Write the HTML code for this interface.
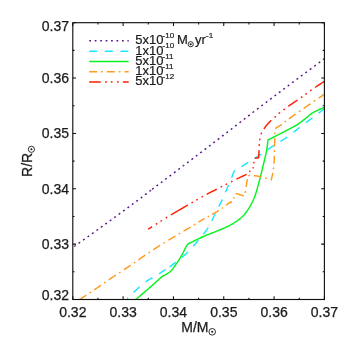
<!DOCTYPE html>
<html><head><meta charset="utf-8"><title>plot</title>
<style>html,body{margin:0;padding:0;background:#fff;}svg{display:block;will-change:transform;}</style></head><body>
<svg width="346" height="346" viewBox="0 0 346 346">
<rect x="0" y="0" width="346" height="346" fill="#fff"/>
<defs><clipPath id="c"><rect x="72.8" y="22.7" width="251.59999999999997" height="276.8"/></clipPath></defs>
<g clip-path="url(#c)" fill="none" stroke-linejoin="round">
<path d="M72.50,247.75 L72.73,247.58 L72.94,247.43 L73.15,247.28 L73.34,247.14 L73.55,246.99 L73.77,246.83 L74.01,246.66 L74.28,246.46 L74.58,246.24 L74.94,245.98" stroke="#5a1485" stroke-width="1.45" stroke-dasharray="1.90 3.58" stroke-dashoffset="3.42"/>
<path d="M74.94,245.98 L76.62,244.77 L78.89,243.15 L81.63,241.18 L84.76,238.94 L88.16,236.50 L91.76,233.92 L95.44,231.28 L99.10,228.64 L102.66,226.07 L106.00,223.65 L109.55,221.06 L113.28,218.34 L117.12,215.53 L121.01,212.69 L124.87,209.85 L128.65,207.07 L132.27,204.40 L135.67,201.88 L138.78,199.56 L141.53,197.50 L142.90,196.47 L144.11,195.54 L145.22,194.69 L146.25,193.89 L147.23,193.13 L148.22,192.36 L149.23,191.57 L150.27,190.77" stroke="#5a1485" stroke-width="1.45" stroke-dasharray="1.90 3.59" stroke-dashoffset="0.95"/>
<path d="M150.27,190.77 L150.32,190.73 L151.50,189.82 L151.56,189.77" stroke="#5a1485" stroke-width="1.45" stroke-dasharray="1.90 3.58" stroke-dashoffset="0.95"/>
<path d="M152.14,189.33 L152.83,188.80 L155.28,186.94 L157.96,184.90 L160.85,182.72 L163.90,180.41 L167.08,178.02 L170.34,175.56 L173.65,173.06 L176.97,170.56 L180.25,168.08 L183.47,165.64" stroke="#5a1485" stroke-width="1.45" stroke-dasharray="1.90 3.58" stroke-dashoffset="0.00"/>
<path d="M183.47,165.64 L186.90,163.04 L190.37,160.41 L193.88,157.74 L197.42,155.06 L200.98,152.36 L204.54,149.65 L208.11,146.93 L211.67,144.22 L215.21,141.51 L218.73,138.82 L222.19,136.17 L225.62,133.52 L229.04,130.88 L232.45,128.24 L235.86,125.60 L239.28,122.95 L242.72,120.29 L246.18,117.62 L249.69,114.92 L253.24,112.20 L253.37,112.10" stroke="#5a1485" stroke-width="1.45" stroke-dasharray="1.91 3.59" stroke-dashoffset="0.95"/>
<path d="M253.37,112.10 L257.11,109.25 L261.06,106.24 L265.07,103.19 L269.12,100.12 L273.18,97.05 L277.24,93.99 L281.26,90.95 L285.22,87.97 L289.11,85.04 L292.89,82.20 L296.32,79.63 L299.98,76.89 L303.74,74.09 L307.50,71.28 L311.16,68.56 L314.59,66.01 L317.68,63.71 L320.34,61.73 L322.44,60.17 L323.87,59.10" stroke="#5a1485" stroke-width="1.45" stroke-dasharray="1.91 3.60" stroke-dashoffset="0.96"/>
<path d="M323.87,59.10 L324.07,58.95 L324.25,58.82 L324.40,58.70 L324.53,58.61 L324.64,58.52 L324.75,58.44 L324.86,58.36 L324.96,58.28 L325.07,58.19 L325.20,58.10" stroke="#5a1485" stroke-width="1.45" stroke-dasharray="1.90 3.58" stroke-dashoffset="0.95"/>
<path d="M127.10,298.80 L127.77,298.15 L128.44,297.50 L129.11,296.84 L129.79,296.19 L130.46,295.54 L131.13,294.88 L131.80,294.23 L132.47,293.58 L133.14,292.94 L133.60,292.49" stroke="#18e8ff" stroke-width="1.45" stroke-dasharray="7.73 7.59" stroke-dashoffset="6.26"/>
<path d="M133.60,292.49 L133.80,292.30 L134.45,291.68 L135.09,291.05 L135.73,290.42 L136.38,289.79 L137.02,289.17 L137.66,288.55 L138.29,287.94 L138.93,287.35 L139.57,286.76 L140.20,286.20 L140.77,285.70 L141.33,285.22 L141.88,284.74 L142.42,284.27 L142.97,283.82 L143.53,283.37 L144.09,282.92 L144.67,282.48 L145.27,282.04 L145.73,281.72" stroke="#18e8ff" stroke-width="1.45" stroke-dasharray="8.20 8.05" stroke-dashoffset="0.00"/>
<path d="M145.73,281.72 L145.90,281.60 L146.65,281.11 L147.43,280.62 L148.25,280.13 L149.10,279.65 L149.95,279.18 L150.80,278.71 L151.64,278.25 L152.46,277.79 L153.25,277.34 L154.00,276.90 L154.58,276.54 L155.14,276.20 L155.68,275.87 L156.20,275.53 L156.72,275.21 L157.23,274.88 L157.75,274.55 L158.28,274.21 L158.83,273.86 L158.98,273.77" stroke="#18e8ff" stroke-width="1.45" stroke-dasharray="7.80 7.65" stroke-dashoffset="0.00"/>
<path d="M158.98,273.77 L159.40,273.50 L160.10,273.06 L160.84,272.61 L161.59,272.15 L162.36,271.68 L163.13,271.20 L163.91,270.72 L164.68,270.24 L165.44,269.76 L166.18,269.28 L166.90,268.80 L167.54,268.36 L168.17,267.93 L168.78,267.50 L169.39,267.06 L169.54,266.95" stroke="#18e8ff" stroke-width="1.45" stroke-dasharray="7.90 7.75" stroke-dashoffset="0.00"/>
<path d="M169.54,266.95 L169.98,266.63 L170.58,266.19 L171.18,265.75 L171.78,265.31 L172.38,264.86 L173.00,264.40 L173.67,263.91 L174.35,263.40 L175.04,262.89 L175.73,262.37 L176.42,261.85 L177.11,261.33 L177.78,260.81 L178.45,260.30 L179.09,259.79 L179.70,259.30 L180.20,258.89 L180.69,258.48 L181.16,258.08 L181.62,257.68 L182.07,257.29 L182.52,256.89 L182.96,256.50 L183.40,256.10 L183.85,255.70 L184.30,255.30 L184.75,254.91 L185.18,254.53 L185.60,254.16 L186.03,253.80 L186.45,253.43 L186.88,253.04 L187.33,252.64 L187.79,252.20 L188.28,251.72 L188.80,251.20 L189.77,250.18 L190.83,249.02 L191.98,247.74 L193.19,246.36 L194.42,244.93 L195.67,243.47 L196.91,242.00 L198.10,240.57 L199.24,239.19 L200.30,237.90 L201.13,236.89 L201.93,235.91 L202.72,234.96 L203.35,234.18" stroke="#18e8ff" stroke-width="1.45" stroke-dasharray="7.96 7.81" stroke-dashoffset="0.00"/>
<path d="M203.35,234.18 L203.48,234.02 L204.23,233.09 L204.96,232.16 L205.67,231.22 L206.36,230.27 L207.04,229.30 L207.70,228.30 L208.34,227.27 L208.94,226.24 L209.52,225.20 L210.08,224.14 L210.63,223.08 L211.17,222.00 L211.71,220.90 L212.25,219.79 L212.82,218.65 L213.40,217.50 L214.10,216.14 L214.81,214.73 L215.54,213.29 L216.28,211.83 L217.02,210.35 L217.76,208.86 L218.49,207.37 L219.21,205.89 L219.92,204.43 L220.60,203.00 L221.22,201.69 L221.83,200.40 L222.42,199.14 L223.00,197.88 L223.57,196.62 L224.14,195.35 L224.72,194.07 L225.30,192.75 L225.89,191.40 L226.50,190.00 L227.24,188.27 L227.99,186.47 L228.76,184.62 L229.53,182.74 L230.30,180.82 L231.09,178.89 L231.58,177.65" stroke="#18e8ff" stroke-width="1.45" stroke-dasharray="7.99 7.84" stroke-dashoffset="0.00"/>
<path d="M231.58,177.65 L231.87,176.95 L232.65,175.02 L233.43,173.10 L234.20,171.20 L235.48,170.39 L236.75,169.58 L238.03,168.78 L239.30,167.97 L240.58,167.16 L241.85,166.35 L243.13,165.54 L244.42,164.73 L245.71,163.92 L247.00,163.10 L248.34,162.26 L249.68,161.42 L251.03,160.58 L252.39,159.74 L253.75,158.90 L254.77,158.26" stroke="#18e8ff" stroke-width="1.45" stroke-dasharray="7.89 7.74" stroke-dashoffset="0.00"/>
<path d="M254.77,158.26 L255.10,158.05 L256.46,157.20 L257.81,156.34 L259.16,155.48 L260.50,154.60 L261.84,153.70 L263.18,152.79 L264.51,151.86 L265.84,150.92 L267.16,149.98 L268.49,149.05 L269.81,148.11 L271.14,147.19 L272.47,146.29 L273.80,145.40 L275.10,144.56 L276.40,143.75 L277.71,142.96 L279.02,142.17 L280.32,141.39 L280.47,141.31" stroke="#18e8ff" stroke-width="1.45" stroke-dasharray="7.77 7.62" stroke-dashoffset="0.00"/>
<path d="M280.47,141.31 L281.63,140.61 L282.93,139.82 L284.23,139.00 L285.52,138.17 L286.80,137.30 L288.12,136.36 L289.43,135.40 L290.74,134.41 L292.05,133.39 L293.35,132.37 L294.64,131.34 L295.94,130.31 L297.23,129.29 L298.51,128.29 L299.80,127.30 L301.04,126.36 L302.28,125.43 L303.51,124.51 L304.74,123.60 L305.96,122.68 L307.19,121.77 L308.41,120.86 L309.64,119.94 L310.87,119.03 L312.10,118.10 L313.35,117.16 L314.60,116.21 L315.85,115.26 L317.10,114.31 L318.35,113.36 L318.63,113.14" stroke="#18e8ff" stroke-width="1.45" stroke-dasharray="7.99 7.83" stroke-dashoffset="0.00"/>
<path d="M318.63,113.14 L319.60,112.41 L320.85,111.46 L322.10,110.50 L323.35,109.55 L324.60,108.60" stroke="#18e8ff" stroke-width="1.45" stroke-dasharray="7.90 7.75" stroke-dashoffset="0.00"/>
<path d="M135.90,299.40 L137.20,298.29 L138.50,297.19 L139.80,296.08 L141.11,294.98 L142.41,293.87 L143.71,292.77 L145.01,291.66 L146.31,290.54 L147.60,289.43 L148.90,288.30 L150.21,287.16 L151.51,286.01 L152.81,284.85 L154.11,283.69 L155.41,282.52 L156.71,281.36 L158.00,280.19 L159.30,279.03 L160.60,277.86 L161.90,276.70 L162.72,276.21 L163.55,275.75 L164.38,275.29 L165.22,274.84 L166.06,274.38 L166.89,273.90 L167.70,273.41 L168.49,272.88 L169.26,272.31 L170.00,271.70 L170.75,270.99 L171.48,270.24 L172.18,269.44 L172.87,268.61 L173.53,267.75 L174.18,266.87 L174.82,265.98 L175.45,265.09 L176.08,264.19 L176.70,263.30 L177.33,262.39 L177.95,261.46 L178.57,260.51 L179.17,259.55 L179.77,258.59 L180.35,257.63 L180.92,256.67 L181.47,255.73 L181.99,254.80 L182.50,253.90 L182.91,253.13 L183.31,252.36 L183.69,251.58 L184.06,250.80 L184.41,250.04 L184.76,249.30 L185.10,248.58 L185.43,247.91 L185.77,247.28 L186.10,246.70 L186.32,246.35 L186.54,246.02 L186.75,245.72 L186.96,245.43 L187.17,245.15 L187.37,244.89 L187.58,244.62 L187.78,244.36 L187.99,244.08 L188.20,243.80 L189.89,242.99 L191.61,242.16 L193.33,241.32 L195.06,240.47 L196.78,239.64 L198.48,238.81 L200.17,238.01 L201.82,237.23 L203.43,236.49 L205.00,235.80 L206.24,235.27 L207.44,234.78 L208.62,234.32 L209.77,233.89 L210.90,233.46 L212.03,233.04 L213.17,232.61 L214.32,232.16 L215.49,231.70 L216.70,231.20 L218.10,230.61 L219.56,230.00 L221.05,229.38 L222.56,228.74 L224.07,228.08 L225.57,227.42 L227.04,226.75 L228.46,226.07 L229.82,225.38 L231.10,224.70 L232.09,224.14 L233.06,223.57 L233.99,223.00 L234.90,222.43 L235.79,221.85 L236.64,221.27 L237.47,220.68 L238.28,220.09 L239.05,219.50 L239.80,218.90 L240.39,218.41 L240.96,217.95 L241.49,217.49 L242.00,217.04 L242.50,216.57 L242.99,216.09 L243.48,215.58 L243.97,215.04 L244.48,214.45 L245.00,213.80 L245.82,212.73 L246.66,211.56 L247.53,210.29 L248.41,208.95 L249.29,207.54 L250.15,206.08 L251.00,204.58 L251.81,203.06 L252.58,201.53 L253.30,200.00 L254.02,198.31 L254.70,196.57 L255.33,194.77 L255.93,192.94 L256.50,191.09 L257.04,189.22 L257.57,187.34 L258.08,185.47 L258.59,183.62 L259.10,181.80 L259.59,180.05 L260.05,178.30 L260.51,176.54 L260.95,174.79 L261.37,173.04 L261.79,171.30 L262.20,169.57 L262.61,167.86 L263.00,166.17 L263.40,164.50 L263.76,162.99 L264.13,161.48 L264.49,159.98 L264.85,158.49 L265.21,157.01 L265.54,155.55 L265.87,154.12 L266.17,152.71 L266.45,151.34 L266.70,150.00 L266.88,148.93 L267.04,147.89 L267.18,146.87 L267.31,145.87 L267.43,144.89 L267.54,143.92 L267.65,142.94 L267.76,141.97 L267.88,140.99 L268.00,140.00 L269.54,139.21 L271.13,138.40 L272.73,137.57 L274.35,136.75 L275.95,135.93 L277.52,135.12 L279.05,134.34 L280.51,133.58 L281.90,132.87 L283.20,132.20 L284.04,131.77 L284.84,131.35 L285.60,130.96 L286.34,130.58 L287.05,130.21 L287.74,129.84 L288.43,129.48 L289.11,129.13 L289.80,128.77 L290.50,128.40 L291.16,128.05 L291.81,127.71 L292.45,127.37 L293.09,127.03 L293.73,126.69 L294.36,126.35 L294.99,126.01 L295.63,125.68 L296.26,125.34 L296.90,125.00 L297.70,124.40 L298.51,123.80 L299.32,123.20 L300.13,122.60 L300.93,122.00 L301.74,121.40 L302.54,120.80 L303.33,120.20 L304.12,119.60 L304.90,119.00 L305.64,118.41 L306.36,117.81 L307.08,117.20 L307.79,116.59 L308.49,115.98 L309.20,115.38 L309.91,114.80 L310.63,114.24 L311.36,113.70 L312.10,113.20 L312.81,112.76 L313.55,112.33 L314.29,111.93 L315.04,111.54 L315.79,111.17 L316.54,110.82 L317.28,110.47 L318.00,110.14 L318.71,109.82 L319.40,109.50 L319.95,109.25 L320.49,109.01 L321.02,108.78 L321.54,108.56 L322.05,108.35 L322.56,108.14 L323.06,107.94 L323.57,107.73 L324.08,107.52 L324.60,107.30" stroke="#08f420" stroke-width="1.45"/>
<path d="M79.70,299.60 L81.15,298.63 L82.59,297.67 L84.03,296.71 L85.47,295.76 L86.91,294.80 L88.36,293.83 L89.81,292.86 L91.26,291.89 L92.73,290.90 L94.20,289.90" stroke="#ff9a1e" stroke-width="1.45" stroke-dasharray="7.98 3.89 1.69 3.89" stroke-dashoffset="0.00"/>
<path d="M94.20,289.90 L95.76,288.83 L97.34,287.74 L98.92,286.65 L100.51,285.54 L102.10,284.42 L103.70,283.31 L105.30,282.19 L106.90,281.09 L108.50,279.99 L108.75,279.82" stroke="#ff9a1e" stroke-width="1.45" stroke-dasharray="8.09 3.94 1.72 3.94" stroke-dashoffset="0.00"/>
<path d="M108.75,279.82 L110.10,278.90 L111.69,277.83 L113.31,276.76 L114.93,275.69 L116.55,274.62 L118.17,273.56 L119.78,272.51 L121.38,271.46 L122.95,270.43 L123.97,269.76" stroke="#ff9a1e" stroke-width="1.45" stroke-dasharray="8.34 4.07 1.77 4.07" stroke-dashoffset="0.00"/>
<path d="M123.97,269.76 L124.49,269.41 L126.00,268.40 L127.29,267.53 L128.54,266.68 L129.76,265.84 L130.96,265.02 L132.14,264.20 L133.34,263.38 L134.54,262.55 L135.78,261.69 L137.06,260.81 L138.40,259.90 L138.52,259.82" stroke="#ff9a1e" stroke-width="1.45" stroke-dasharray="8.06 3.93 1.71 3.93" stroke-dashoffset="0.00"/>
<path d="M138.52,259.82 L140.13,258.72 L141.95,257.47 L143.84,256.18 L145.78,254.85 L147.74,253.51 L149.70,252.18 L151.63,250.88 L153.50,249.61 L155.30,248.42 L157.00,247.30 L158.25,246.49 L159.47,245.70 L160.67,244.93 L161.84,244.19 L162.98,243.46 L164.10,242.77 L165.19,242.09 L166.25,241.44 L167.29,240.81 L168.30,240.20" stroke="#ff9a1e" stroke-width="1.45" stroke-dasharray="8.15 3.97 1.73 3.97" stroke-dashoffset="0.00"/>
<path d="M168.30,240.20 L169.05,239.76 L169.77,239.34 L170.47,238.95 L171.15,238.58 L171.81,238.21 L172.47,237.85 L173.14,237.48 L173.81,237.10 L174.49,236.71 L175.20,236.30 L176.01,235.81 L176.85,235.30 L177.69,234.78 L178.55,234.24 L179.40,233.70 L180.26,233.16 L181.12,232.62 L181.96,232.10 L182.79,231.59 L183.57,231.12" stroke="#ff9a1e" stroke-width="1.45" stroke-dasharray="8.12 3.96 1.73 3.96" stroke-dashoffset="0.00"/>
<path d="M183.57,231.12 L183.60,231.10 L184.30,230.69 L184.99,230.29 L185.67,229.90 L186.34,229.53 L187.01,229.15 L187.67,228.78 L188.34,228.40 L189.02,228.02 L189.70,227.62 L190.40,227.20 L191.20,226.71 L192.01,226.20 L192.83,225.68 L193.66,225.14 L194.50,224.60 L195.34,224.06 L196.17,223.52 L196.99,223.00 L197.80,222.49 L198.51,222.05" stroke="#ff9a1e" stroke-width="1.45" stroke-dasharray="7.99 3.90 1.70 3.90" stroke-dashoffset="0.00"/>
<path d="M198.51,222.05 L198.60,222.00 L199.29,221.59 L199.96,221.19 L200.61,220.81 L201.26,220.44 L201.90,220.07 L202.55,219.70 L203.22,219.33 L203.91,218.94 L204.64,218.53 L205.40,218.10 L206.52,217.47 L207.74,216.81 L209.02,216.12 L210.35,215.41 L211.71,214.67 L212.08,214.47" stroke="#ff9a1e" stroke-width="1.45" stroke-dasharray="7.11 3.47 1.51 3.47" stroke-dashoffset="0.00"/>
<path d="M212.08,214.47 L213.07,213.93 L214.41,213.19 L215.71,212.45 L216.95,211.72 L218.10,211.00 L219.00,210.41 L219.89,209.81 L220.76,209.20 L221.61,208.59 L222.43,207.99 L223.22,207.39 L223.99,206.81 L224.73,206.25 L225.43,205.71 L226.10,205.20" stroke="#ff9a1e" stroke-width="1.45" stroke-dasharray="7.69 3.75 1.64 3.75" stroke-dashoffset="0.00"/>
<path d="M226.10,205.20 L226.54,204.86 L226.95,204.54 L227.35,204.24 L227.73,203.94 L228.09,203.65 L228.45,203.36 L228.81,203.07 L229.16,202.79 L229.53,202.50 L229.90,202.20 L231.20,202.60 L231.00,202.00 L231.27,201.59 L231.55,201.19 L231.84,200.78 L232.12,200.38 L232.40,199.98 L232.68,199.57 L232.95,199.16 L233.21,198.75 L233.46,198.33 L233.70,197.90 L233.92,197.47 L234.13,197.03 L234.33,196.58 L234.52,196.13 L234.70,195.68 L234.88,195.22 L235.05,194.76 L235.23,194.31 L235.41,193.85 L235.60,193.40" stroke="#ff9a1e" stroke-width="1.45" stroke-dasharray="7.60 3.71 1.62 3.71" stroke-dashoffset="0.00"/>
<path d="M235.60,193.40 L236.31,193.61 L237.04,193.84 L237.80,194.06 L238.55,194.29 L239.30,194.52 L240.03,194.74 L240.72,194.95 L241.38,195.15 L241.97,195.33 L242.50,195.50 L242.76,195.58 L243.00,195.66 L243.22,195.73 L243.43,195.80 L243.63,195.87 L243.82,195.94 L244.01,196.00 L244.20,196.07 L244.40,196.13 L244.60,196.20 L244.67,195.80 L244.74,195.41 L244.81,195.02 L244.88,194.63 L244.95,194.24 L245.02,193.84 L245.09,193.44 L245.16,193.04 L245.23,192.62 L245.30,192.20 L245.38,191.70 L245.46,191.19 L245.53,190.67 L245.61,190.15 L245.68,189.61 L245.76,189.07 L245.84,188.52 L245.92,187.96 L246.01,187.38 L246.10,186.80" stroke="#ff9a1e" stroke-width="1.45" stroke-dasharray="8.66 4.22 1.84 4.22" stroke-dashoffset="0.00"/>
<path d="M246.10,186.80 L246.22,186.05 L246.35,185.26 L246.48,184.43 L246.61,183.59 L246.75,182.73 L246.90,181.89 L247.04,181.07 L247.19,180.29 L247.35,179.56 L247.50,178.90 L247.60,178.50 L247.71,178.12 L247.82,177.77 L247.93,177.43 L248.04,177.11 L248.15,176.79 L248.27,176.47 L248.38,176.16 L248.49,175.83 L248.60,175.50 L249.11,175.51 L249.61,175.51 L250.10,175.51 L250.60,175.50 L251.10,175.50 L251.60,175.51 L252.11,175.52 L252.63,175.53 L253.16,175.56 L253.70,175.60 L253.71,175.60" stroke="#ff9a1e" stroke-width="1.45" stroke-dasharray="7.64 3.72 1.62 3.72" stroke-dashoffset="0.00"/>
<path d="M253.71,175.60 L254.38,175.66 L255.09,175.74 L255.82,175.83 L256.56,175.93 L257.31,176.04 L258.06,176.16 L258.81,176.28 L259.53,176.42 L260.23,176.56 L260.90,176.70 L261.44,176.83 L261.96,176.96 L262.47,177.11 L262.96,177.26 L263.45,177.41 L263.94,177.57 L264.42,177.72 L264.90,177.88 L265.40,178.04 L265.90,178.20 L266.43,178.36 L266.97,178.53 L267.51,178.70 L268.05,178.87 L268.59,179.04 L269.13,179.21 L269.67,179.39 L270.22,179.56 L270.58,179.67" stroke="#ff9a1e" stroke-width="1.45" stroke-dasharray="7.96 3.88 1.69 3.88" stroke-dashoffset="0.00"/>
<path d="M270.58,179.67 L270.76,179.73 L271.30,179.90 L271.45,179.21 L271.61,178.52 L271.77,177.82 L271.93,177.12 L272.09,176.42 L272.25,175.73 L272.40,175.05 L272.55,174.38 L272.68,173.73 L272.80,173.10 L272.89,172.61 L272.97,172.15 L273.05,171.70 L273.12,171.27 L273.19,170.84 L273.25,170.40 L273.32,169.96 L273.38,169.50 L273.44,169.01 L273.50,168.50 L273.58,167.77 L273.66,167.01 L273.74,166.22 L273.82,165.40 L273.89,164.56 L273.96,163.70 L273.96,163.70" stroke="#ff9a1e" stroke-width="1.45" stroke-dasharray="7.86 3.83 1.67 3.83" stroke-dashoffset="0.00"/>
<path d="M273.96,163.70 L274.02,162.81 L274.09,161.90 L274.15,160.96 L274.20,160.00 L274.26,158.67 L274.32,157.27 L274.37,155.80 L274.41,154.29 L274.44,152.75 L274.48,151.19 L274.51,149.62 L274.54,148.05 L274.57,146.51 L274.57,146.50" stroke="#ff9a1e" stroke-width="1.45" stroke-dasharray="7.87 3.84 1.67 3.84" stroke-dashoffset="0.00"/>
<path d="M274.57,146.50 L274.60,145.00 L274.63,143.54 L274.67,142.08 L274.70,140.63 L274.73,139.18 L274.76,137.73 L274.78,136.29 L274.81,134.84 L274.84,133.40 L274.87,131.95 L274.90,130.50 L274.94,130.32 L274.97,130.14 L275.00,129.96 L275.02,129.79 L275.04,129.61 L275.08,129.43 L275.13,129.25 L275.19,129.07 L275.28,128.89 L275.40,128.70" stroke="#ff9a1e" stroke-width="1.45" stroke-dasharray="8.18 3.99 1.74 3.99" stroke-dashoffset="0.00"/>
<path d="M275.40,128.70 L275.71,128.34 L276.12,127.99 L276.60,127.63 L277.16,127.27 L277.76,126.90 L278.41,126.52 L279.06,126.14 L279.73,125.74 L280.38,125.33 L281.00,124.90 L281.74,124.36 L282.48,123.81 L283.22,123.23 L283.98,122.64 L284.76,122.04 L285.55,121.42 L286.37,120.79 L287.22,120.14 L288.09,119.48 L289.00,118.80" stroke="#ff9a1e" stroke-width="1.45" stroke-dasharray="7.70 3.76 1.64 3.76" stroke-dashoffset="0.00"/>
<path d="M289.00,118.80 L290.28,117.86 L291.64,116.88 L293.07,115.86 L294.54,114.81 L296.05,113.75 L297.59,112.67 L299.13,111.58 L300.68,110.51 L302.20,109.44 L303.70,108.40" stroke="#ff9a1e" stroke-width="1.45" stroke-dasharray="8.23 4.01 1.75 4.01" stroke-dashoffset="0.00"/>
<path d="M303.70,108.40 L305.21,107.35 L306.78,106.27 L308.37,105.18 L309.97,104.09 L311.55,103.00 L313.11,101.94 L314.61,100.92 L316.04,99.94 L317.38,99.03 L318.60,98.20" stroke="#ff9a1e" stroke-width="1.45" stroke-dasharray="8.25 4.02 1.75 4.02" stroke-dashoffset="0.00"/>
<path d="M318.60,98.20 L319.31,97.72 L319.97,97.26 L320.60,96.83 L321.19,96.43 L321.77,96.03 L322.33,95.65 L322.88,95.27 L323.44,94.89 L324.01,94.50 L324.60,94.10" stroke="#ff9a1e" stroke-width="1.45" stroke-dasharray="8.00 3.90 1.70 3.90" stroke-dashoffset="0.00"/>
<path d="M148.10,229.20 L150.38,227.77 L152.69,226.32 L155.00,224.85 L157.32,223.39 L159.63,221.93 L161.93,220.49 L164.20,219.06 L166.45,217.67 L168.65,216.31 L170.80,215.00" stroke="#ff1e05" stroke-width="1.45" stroke-dasharray="11.39 4.40 1.70 3.90 1.70 4.40 1.70 4.30" stroke-dashoffset="6.69"/>
<path d="M170.80,215.00 L172.61,213.91 L174.39,212.85 L176.13,211.83 L177.84,210.82 L178.16,210.64" stroke="#ff1e05" stroke-width="1.45" stroke-dasharray="11.40 4.40 1.70 3.90 1.70 4.40 1.70 4.30" stroke-dashoffset="0.00"/>
<path d="M178.16,210.64 L179.54,209.83 L181.23,208.85 L182.93,207.88 L184.63,206.90 L186.35,205.91 L188.10,204.90 L189.96,203.83 L191.86,202.72 L193.80,201.60 L195.75,200.47 L197.70,199.35 L199.62,198.25 L201.50,197.18 L203.32,196.16 L205.06,195.19 L206.66,194.32" stroke="#ff1e05" stroke-width="1.45" stroke-dasharray="11.17 4.31 1.67 3.82 1.67 4.31 1.67 4.21" stroke-dashoffset="0.00"/>
<path d="M206.66,194.32 L206.70,194.30 L207.81,193.71 L208.85,193.17 L209.84,192.66 L210.79,192.19 L211.73,191.72 L212.66,191.26 L213.62,190.79 L214.62,190.30 L215.67,189.77 L216.80,189.20 L218.52,188.32 L220.39,187.35 L222.38,186.33 L224.44,185.26 L226.54,184.17 L228.64,183.08 L230.70,182.02 L232.69,181.01 L234.57,180.06 L236.30,179.20 L236.34,179.18" stroke="#ff1e05" stroke-width="1.45" stroke-dasharray="11.34 4.38 1.69 3.88 1.69 4.38 1.69 4.28" stroke-dashoffset="0.00"/>
<path d="M236.34,179.18 L237.45,178.64 L238.54,178.11 L239.59,177.61 L240.61,177.14 L241.60,176.68 L242.57,176.22 L243.54,175.78 L244.51,175.33 L245.49,174.87 L246.50,174.40 L246.55,174.35" stroke="#ff1e05" stroke-width="1.45" stroke-dasharray="11.30 4.36 1.68 3.87 1.68 4.36 1.68 4.26" stroke-dashoffset="0.00"/>
<path d="M246.55,174.35 L246.82,174.10 L247.14,173.80 L247.46,173.50 L247.78,173.20 L248.10,172.90 L248.42,172.61 L248.74,172.31 L249.06,172.00 L249.38,171.70 L249.70,171.40 L250.03,171.10 L250.38,170.81 L250.73,170.52 L251.09,170.24 L251.44,169.95 L251.79,169.65 L252.11,169.34 L252.41,169.02 L252.67,168.67 L252.90,168.30 L253.10,167.87 L253.25,167.41 L253.36,166.93 L253.45,166.43 L253.52,165.91 L253.57,165.38 L253.62,164.86 L253.67,164.33 L253.73,163.81 L253.80,163.30 L253.88,162.80 L253.97,162.30 L254.05,161.80 L254.13,161.30 L254.21,160.80 L254.28,160.30 L254.36,159.80 L254.44,159.30 L254.52,158.80 L254.60,158.30 L254.69,158.29" stroke="#ff1e05" stroke-width="1.45" stroke-dasharray="9.83 3.79 1.47 3.36 1.47 3.79 1.47 3.71" stroke-dashoffset="9.83"/>
<path d="M254.69,158.29 L258.60,157.80 L258.65,157.01 L258.70,156.22 L258.76,155.42 L258.81,154.62 L258.87,153.82 L258.92,153.03 L258.97,152.25 L259.02,151.48 L259.06,150.73 L259.10,150.00 L259.13,149.39 L259.15,148.80 L259.16,148.21 L259.18,147.64 L259.19,147.07 L259.21,146.51 L259.22,145.95 L259.24,145.40 L259.27,144.85 L259.30,144.30 L259.33,143.79 L259.37,143.28 L259.40,142.78 L259.44,142.29 L259.48,141.79 L259.53,141.30 L259.58,140.81 L259.65,140.31 L259.72,139.81 L259.80,139.30 L259.90,138.75 L260.00,138.18 L260.11,137.61 L260.23,137.04 L260.36,136.47 L260.50,135.90 L260.65,135.33 L260.82,134.78 L261.00,134.23 L261.20,133.70 L261.41,133.20 L261.65,132.71 L261.89,132.23 L262.16,131.75 L262.43,131.28 L262.72,130.82 L263.01,130.36 L263.30,129.91 L263.60,129.45 L263.90,129.00" stroke="#ff1e05" stroke-width="1.45" stroke-dasharray="11.47 4.43 1.71 3.92 1.71 4.43 1.71 4.33" stroke-dashoffset="0.00"/>
<path d="M263.90,129.00 L264.20,128.54 L264.51,128.09 L264.83,127.64 L265.15,127.20 L265.48,126.75 L265.82,126.31 L266.16,125.88 L266.50,125.45 L266.85,125.02 L267.20,124.60 L267.56,124.18 L267.93,123.77 L268.30,123.36 L268.67,122.95 L269.06,122.55 L269.44,122.15 L269.83,121.76 L270.22,121.37 L270.61,120.98 L271.00,120.60 L271.38,120.23 L271.77,119.88 L272.15,119.53 L272.54,119.18 L272.93,118.84 L273.33,118.49 L273.72,118.15 L274.11,117.80 L274.51,117.46 L274.90,117.10 L275.30,116.73 L275.71,116.35 L276.11,115.96 L276.51,115.58 L276.91,115.19 L277.31,114.80 L277.72,114.42 L278.14,114.04 L278.57,113.67 L279.00,113.30 L279.47,112.92 L279.94,112.56 L280.43,112.19 L280.93,111.83 L281.43,111.47 L281.93,111.12 L282.43,110.76 L282.93,110.41 L283.42,110.06 L283.90,109.70 L284.34,109.36 L284.77,109.03 L285.19,108.70 L285.60,108.38 L286.01,108.05 L286.43,107.72 L286.86,107.38 L287.31,107.03 L287.79,106.67 L288.30,106.30" stroke="#ff1e05" stroke-width="1.45" stroke-dasharray="11.40 4.40 1.70 3.90 1.70 4.40 1.70 4.30" stroke-dashoffset="0.00"/>
<path d="M288.30,106.30 L289.06,105.76 L289.86,105.20 L290.69,104.63 L291.56,104.05 L292.46,103.45 L293.39,102.83 L294.35,102.18 L295.34,101.51 L296.36,100.82 L297.40,100.10 L298.95,99.00 L300.64,97.80 L302.43,96.51 L304.28,95.17 L306.17,93.80 L308.06,92.43 L309.92,91.09 L311.72,89.80 L313.42,88.60 L315.00,87.50" stroke="#ff1e05" stroke-width="1.45" stroke-dasharray="11.11 4.29 1.66 3.80 1.66 4.29 1.66 4.19" stroke-dashoffset="0.00"/>
<path d="M315.00,87.50 L316.07,86.77 L317.09,86.08 L318.08,85.43 L319.04,84.81 L319.97,84.20 L320.89,83.60 L321.81,83.01 L322.72,82.42 L323.65,81.82 L324.60,81.20" stroke="#ff1e05" stroke-width="1.45" stroke-dasharray="11.40 4.40 1.70 3.90 1.70 4.40 1.70 4.30" stroke-dashoffset="0.00"/>
</g>
<rect x="72.8" y="22.7" width="251.59999999999997" height="276.8" fill="none" stroke="#0d0d0d" stroke-width="1.12"/>
<path d="M72.80,299.5 v-3.2 M72.80,22.7 v3.2 M72.8,299.50 h3.2 M324.4,299.50 h-3.2 M97.96,299.5 v-1.7 M97.96,22.7 v1.7 M72.8,271.82 h1.7 M324.4,271.82 h-1.7 M123.12,299.5 v-3.2 M123.12,22.7 v3.2 M72.8,244.14 h3.2 M324.4,244.14 h-3.2 M148.28,299.5 v-1.7 M148.28,22.7 v1.7 M72.8,216.46 h1.7 M324.4,216.46 h-1.7 M173.44,299.5 v-3.2 M173.44,22.7 v3.2 M72.8,188.78 h3.2 M324.4,188.78 h-3.2 M198.60,299.5 v-1.7 M198.60,22.7 v1.7 M72.8,161.10 h1.7 M324.4,161.10 h-1.7 M223.76,299.5 v-3.2 M223.76,22.7 v3.2 M72.8,133.42 h3.2 M324.4,133.42 h-3.2 M248.92,299.5 v-1.7 M248.92,22.7 v1.7 M72.8,105.74 h1.7 M324.4,105.74 h-1.7 M274.08,299.5 v-3.2 M274.08,22.7 v3.2 M72.8,78.06 h3.2 M324.4,78.06 h-3.2 M299.24,299.5 v-1.7 M299.24,22.7 v1.7 M72.8,50.38 h1.7 M324.4,50.38 h-1.7 M324.40,299.5 v-3.2 M324.40,22.7 v3.2 M72.8,22.70 h3.2 M324.4,22.70 h-3.2" stroke="#0d0d0d" stroke-width="1.05" fill="none"/>
<g font-family="Liberation Sans, sans-serif" font-size="14.0" fill="#1a1a1a" stroke="#1a1a1a" stroke-width="0.25">
<text x="72.8" y="317.4" text-anchor="middle">0.32</text>
<text x="123.1" y="317.4" text-anchor="middle">0.33</text>
<text x="173.4" y="317.4" text-anchor="middle">0.34</text>
<text x="223.8" y="317.4" text-anchor="middle">0.35</text>
<text x="274.1" y="317.4" text-anchor="middle">0.36</text>
<text x="324.4" y="317.4" text-anchor="middle">0.37</text>
<text x="69.0" y="299.8" text-anchor="end">0.32</text>
<text x="69.0" y="248.9" text-anchor="end">0.33</text>
<text x="69.0" y="193.6" text-anchor="end">0.34</text>
<text x="69.0" y="138.2" text-anchor="end">0.35</text>
<text x="69.0" y="82.9" text-anchor="end">0.36</text>
<text x="69.0" y="30.7" text-anchor="end">0.37</text>
<text x="181.3" y="332.0">M/M</text>
<text transform="translate(31.8,176.9) rotate(-90)">R/R</text>
</g>
<circle cx="212.2" cy="331.8" r="3.3" fill="none" stroke="#1a1a1a" stroke-width="0.9"/><circle cx="212.2" cy="331.8" r="1.05" fill="#1a1a1a"/>
<circle cx="31.4" cy="149.3" r="3.1" fill="none" stroke="#1a1a1a" stroke-width="0.9"/><circle cx="31.4" cy="149.3" r="1.05" fill="#1a1a1a"/>
<path d="M89.2,40.75 H128.7" stroke="#5a1485" stroke-width="1.45" fill="none" stroke-dasharray="1.7 3.75" stroke-dashoffset="-0.1"/>
<path d="M89.2,51.15 H128.7" stroke="#18e8ff" stroke-width="1.45" fill="none" stroke-dasharray="7.9 7.75" stroke-dashoffset="0"/>
<path d="M89.2,61.56 H128.7" stroke="#08f420" stroke-width="1.45" fill="none"/>
<path d="M89.2,71.8 H128.7" stroke="#ff9a1e" stroke-width="1.45" fill="none" stroke-dasharray="7.9 4 1.7 4.1" stroke-dashoffset="0"/>
<path d="M89.2,82.0 H128.7" stroke="#ff1e05" stroke-width="1.45" fill="none" stroke-dasharray="11.5 4.5 1.7 3.9 1.7 4.5 1.7 4.2" stroke-dashoffset="0"/>
<g font-family="Liberation Sans, sans-serif" fill="#1a1a1a" stroke="#1a1a1a" stroke-width="0.2">
<text x="135.3" y="44.1" font-size="13.0">5x10</text>
<text x="162.6" y="37.6" font-size="8.0">-10</text>
<text x="135.3" y="54.5" font-size="13.0">1x10</text>
<text x="162.6" y="48.0" font-size="8.0">-10</text>
<text x="135.3" y="65.0" font-size="13.0">5x10</text>
<text x="162.6" y="58.5" font-size="8.0">-11</text>
<text x="135.3" y="75.2" font-size="13.0">1x10</text>
<text x="162.6" y="68.7" font-size="8.0">-11</text>
<text x="135.3" y="85.4" font-size="13.0">5x10</text>
<text x="162.6" y="78.9" font-size="8.0">-12</text>
<text x="176.9" y="44.1" font-size="13.0">M</text>
<text x="195.1" y="44.1" font-size="13.0">yr</text>
<text x="206.0" y="37.6" font-size="8.0">-1</text>
</g>
<circle cx="190.7" cy="44.2" r="2.6" fill="none" stroke="#1a1a1a" stroke-width="0.9"/><circle cx="190.7" cy="44.2" r="1.05" fill="#1a1a1a"/>
</svg></body></html>
